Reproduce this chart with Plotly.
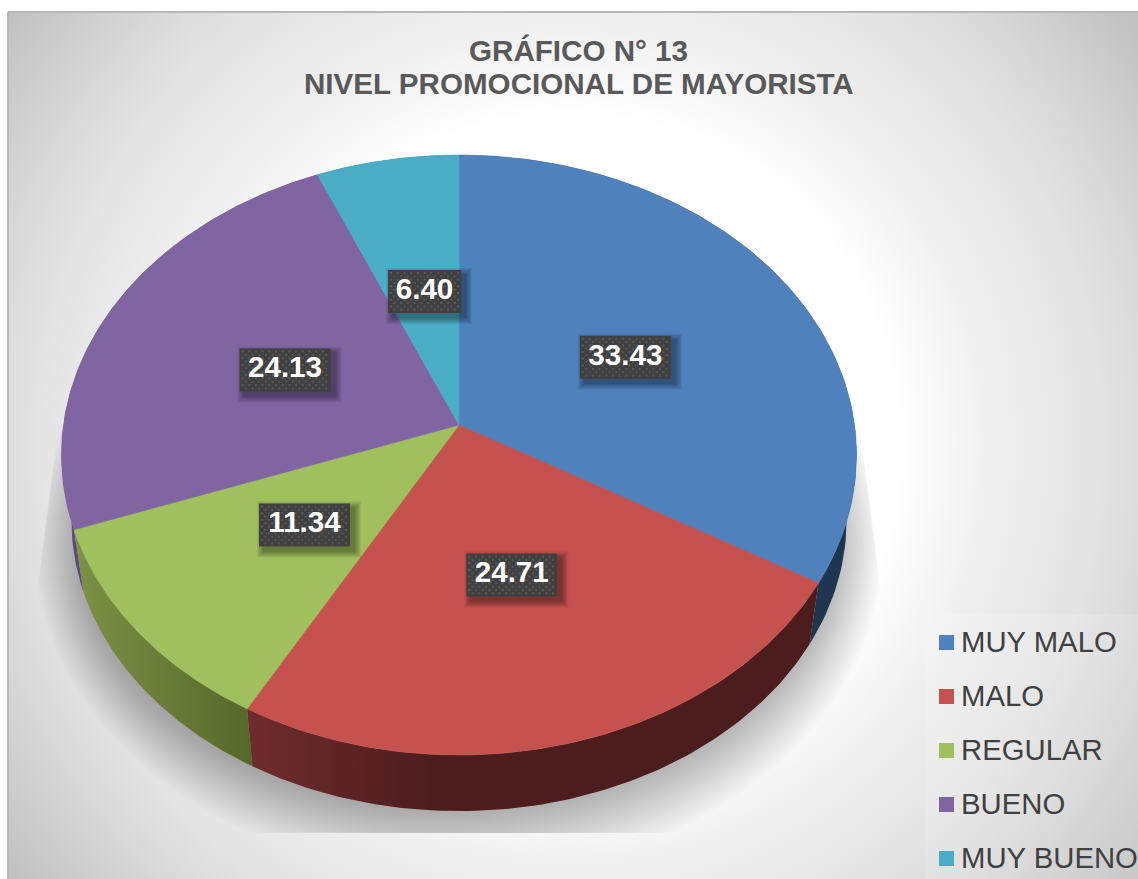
import numpy as np
import plotly.graph_objects as go

# ---- data ----
categories = ["MUY MALO", "MALO", "REGULAR", "BUENO", "MUY BUENO"]
values = [33.43, 24.71, 11.34, 24.13, 6.40]
title_lines = ["GRÁFICO N° 13", "NIVEL PROMOCIONAL DE MAYORISTA"]

# ---- styles ----
top_colors = ["#4f81bd", "#c5524f", "#a0bf5d", "#8165a3", "#4bacc6"]
wall_scales = {
    0: [[0, "#1e3650"], [1, "#1e3650"]],
    1: [[0, "#702c2c"], [0.32, "#4d1d1d"], [1, "#4d1d1d"]],
    2: [[0, "#7d9147"], [1, "#566829"]],
    3: [[0, "#5f4a7c"], [1, "#5f4a7c"]],
    4: [[0, "#2c6475"], [1, "#2c6475"]],
}
label_rx = [0.509, 0.460, 0.479, 0.499, 0.479]
label_ry = [0.482, 0.473, 0.487, 0.482, 0.504]
FONT = "Liberation Sans"
W, H = 1138, 879
CX, CY = 459.0, 425.0       # pie apex on the page
PERSP, KY, KX = 0.10, 297.0, 395.5
WALL_SX, WALL_SY, WALL_DY = 0.975, 0.97, 66.0


def project(fr):
    t = 2 * np.pi * np.asarray(fr)
    u, v = np.sin(t), np.cos(t)
    den = 1 + PERSP * v
    return CX + KX * u / den, CY - KY * v / den


def project_bottom(fr):
    x, y = project(fr)
    return CX + WALL_SX * (x - CX), CY + WALL_SY * (y - CY) + WALL_DY


def poly(fig, xs, ys, color=None, line=None, **kw):
    fig.add_trace(go.Scatter(
        x=list(xs), y=list(ys), mode="lines", fill="toself",
        fillcolor=color, line=dict(width=0.6 if line else 0, color=line or "rgba(0,0,0,0)"),
        hoverinfo="skip", showlegend=False, **kw))


fig = go.Figure()

# background: circular radial gradient over a box larger than the frame
bx, by, br = 569, 445, 702
poly(fig, [bx - br, bx + br, bx + br, bx - br, bx - br],
     [by - br, by - br, by + br, by + br, by - br],
     fillgradient=dict(type="radial",
                       colorscale=[[0, "#ffffff"], [0.47, "#ffffff"], [0.59, "#f1f1f1"],
                                   [0.76, "#e3e3e3"], [0.85, "#d8d8d8"], [1, "#c2c2c2"]]))

# soft shadow under the pie: blurred ellipse, clipped by a trapezoid
th = np.linspace(0, 2 * np.pi, 200)
for d in np.linspace(50, 0, 25):
    rx, ry = 375 + d, 266 + 1.3 * d
    dx = rx * np.cos(th)
    ey = 545 + ry * np.sin(th)
    limit = np.where(ey < 583, 397 + (ey - 400) * 24 / 183, 421)
    ex = CX + np.clip(dx, -limit, limit)
    poly(fig, ex, np.minimum(ey, 833), color="rgba(0,0,0,0.011)")

# slices
total = sum(values)
edges = np.r_[0, np.cumsum(values)] / total
order = [0, 3, 4, 2, 1]
for i in order:
    fr = np.linspace(edges[i], edges[i + 1], 100)
    xt, yt = project(fr)
    xb, yb = project_bottom(fr)
    poly(fig, np.r_[xt, xb[::-1], xt[0]], np.r_[yt, yb[::-1], yt[0]],
         fillgradient=dict(type="horizontal", colorscale=wall_scales[i],
                           start=float(min(xt.min(), xb.min())), stop=float(max(xt.max(), xb.max()))))
for i in range(len(values)):
    fr = np.linspace(edges[i], edges[i + 1], 120)
    xt, yt = project(fr)
    poly(fig, np.r_[CX, xt, CX], np.r_[CY, yt, CY], color=top_colors[i], line=top_colors[i])

# data labels
for i, v in enumerate(values):
    txt = f"{v:.2f}"
    mid = (edges[i] + edges[i + 1]) / 2
    px, py = project(mid)
    lx, ly = CX + label_rx[i] * (px - CX), CY + label_ry[i] * (py - CY)
    bw = 91 if len(txt) == 5 else 73
    bh = 43
    x0, x1, y0, y1 = lx - bw / 2, lx + bw / 2, ly - bh / 2, ly + bh / 2
    for g in range(7, 0, -1):
        poly(fig, [x0 + 5 - g, x1 + 4 + g, x1 + 4 + g, x0 + 5 - g, x0 + 5 - g],
             [y0 + 5 - g, y0 + 5 - g, y1 + 4 + g, y1 + 4 + g, y0 + 5 - g],
             color="rgba(0,0,0,0.06)")
    poly(fig, [x0, x1, x1, x0, x0], [y0, y0, y1, y1, y0], color="#404040")
    gx, gy = np.meshgrid(np.arange(x0 + 3, x1 - 1, 6.7), np.arange(y0 + 3, y1 - 1, 3.35))
    row = np.round((gy - (y0 + 3)) / 3.35).astype(int)
    gx = gx + (row % 2) * 3.35
    keep = gx < x1 - 1
    fig.add_trace(go.Scatter(x=gx[keep], y=gy[keep], mode="markers",
                             marker=dict(symbol="square", size=2, color="#5a5a5a", line=dict(width=0)),
                             hoverinfo="skip", showlegend=False))
    fig.add_trace(go.Scatter(x=[lx], y=[ly], mode="text", text=[txt], textposition="middle center",
                             textfont=dict(family=FONT, size=29.6, color="#ffffff", weight="bold"),
                             hoverinfo="skip", showlegend=False))

# legend panel and entries
poly(fig, [925, 1140, 1140, 925, 925], [614, 614, 881, 881, 614], color="rgba(255,255,255,0.14)")
leg_x = 946.5
leg_y = [642.5 + 54 * i for i in range(len(categories))]
for i, cat in enumerate(categories):
    fig.add_trace(go.Scatter(x=[leg_x], y=[leg_y[i]], mode="markers",
                             marker=dict(symbol="square", size=15, color=top_colors[i], line=dict(width=0)),
                             name=cat, hoverinfo="skip", showlegend=False))
    fig.add_annotation(x=961, y=leg_y[i] - 1, xref="x", yref="y", text=cat, showarrow=False,
                       xanchor="left", yanchor="middle", borderpad=0, xshift=-1,
                       font=dict(family=FONT, size=29.3, color="#404040"))

# title
for text, y in zip(title_lines, [50, 83]):
    fig.add_annotation(x=578.5, y=y, xref="x", yref="y", text=text, showarrow=False,
                       xanchor="center", yanchor="middle", borderpad=0,
                       font=dict(family=FONT, size=29.6, color="#595959", weight="bold"))

fig.update_layout(
    width=W, height=H, margin=dict(l=8, r=0, t=12, b=0),
    paper_bgcolor="#ffffff", plot_bgcolor="rgba(0,0,0,0)", showlegend=False,
    xaxis=dict(range=[8, W], visible=False, fixedrange=True),
    yaxis=dict(range=[H, 12], visible=False, fixedrange=True),
    shapes=[
        dict(type="line", xref="paper", yref="paper", x0=0, x1=0, y0=0, y1=1,
             line=dict(color="#b8b8b8", width=2)),
        dict(type="line", xref="paper", yref="paper", x0=0, x1=1, y0=1, y1=1,
             line=dict(color="#b8b8b8", width=2)),
    ],
)

fig.write_html("out.html", config={"displayModeBar": False},
               post_script="document.body.style.margin='0';document.body.style.overflow='hidden';")
